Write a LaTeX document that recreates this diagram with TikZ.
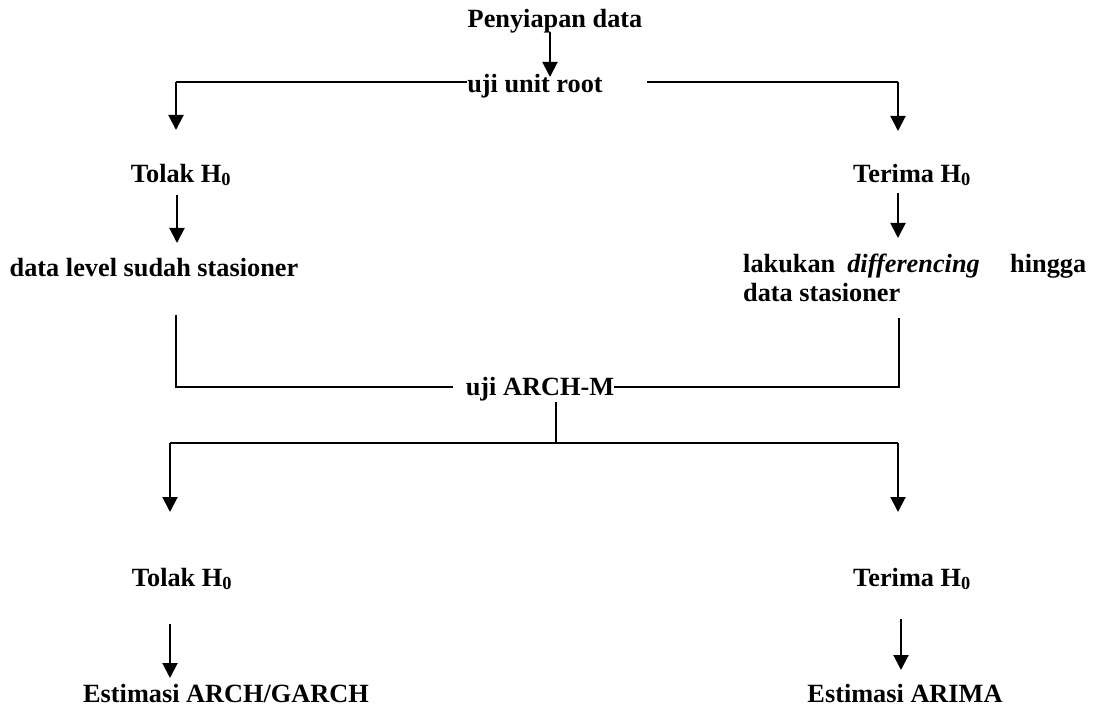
\documentclass[tikz,border=0pt]{standalone}
\usepackage{fontspec}
\setmainfont{Liberation Serif}
\usetikzlibrary{arrows.meta}
\begin{document}
\begin{tikzpicture}[x=1pt,y=-1pt,
  lbl/.style={inner sep=0pt, font=\fontsize{26.3}{29}\selectfont\bfseries},
  ln/.style={line width=2pt},
  arr/.style={line width=2pt,-{Triangle[length=15pt,width=15pt]}}]
\useasboundingbox (0,0) rectangle (1097,708);
% nodes
\node[lbl] (pen) at (555,21) {Penyiapan data};
\node[lbl] (uur) at (535,86) {uji unit root};
\node[lbl] (tol1) at (181,175) {Tolak H\textsubscript{0}};
\node[lbl] (ter1) at (912,175) {Terima H\textsubscript{0}};
\node[lbl] (dls) at (154,268) {data level sudah stasioner};
\node[lbl, anchor=west, align=left] (diff) at (743,278) {\makebox[343pt][l]{lakukan\hspace{12pt}\textit{differencing}\hfill hingga}\\data stasioner};
\node[lbl] (arch) at (540,389) {uji ARCH-M};
\node[lbl] (tol2) at (182,579) {Tolak H\textsubscript{0}};
\node[lbl] (ter2) at (912,579) {Terima H\textsubscript{0}};
\node[lbl] (eag) at (226,693) {Estimasi ARCH/GARCH};
\node[lbl] (ear) at (905,693) {Estimasi ARIMA};
% coordinates
\coordinate (a1) at (550,32);
\coordinate (a2) at (550,77);
\coordinate (l1) at (176,82);
\coordinate (r0) at (647,82);
\coordinate (r1) at (898,82);
\coordinate (m1) at (176,387);
\coordinate (m2) at (899,387);
\coordinate (c1) at (556,402);
\coordinate (c2) at (556,443);
\coordinate (b1) at (170,443);
\coordinate (b2) at (898,443);
% connectors
\draw[arr] (a1) -- (a2);
\draw[ln] (uur.west |- l1) -- (l1);
\draw[arr] (l1) -- (176,130);
\draw[ln] (r0) -- (r1);
\draw[arr] (r1) -- (898,131);
\draw[arr] (177,195) -- (177,243);
\draw[arr] (898,193) -- (898,238);
\draw[ln] (176,315) -- (m1) -- (453,387);
\draw[ln] (arch.east |- m2) -- (m2) -- (899,318);
\draw[ln] (c1) -- (c2);
\draw[ln] (b1) -- (b2);
\draw[arr] (b1) -- (170,512);
\draw[arr] (b2) -- (898,512);
\draw[arr] (170,624) -- (170,678);
\draw[arr] (901,619) -- (901,670);
\end{tikzpicture}
\end{document}
